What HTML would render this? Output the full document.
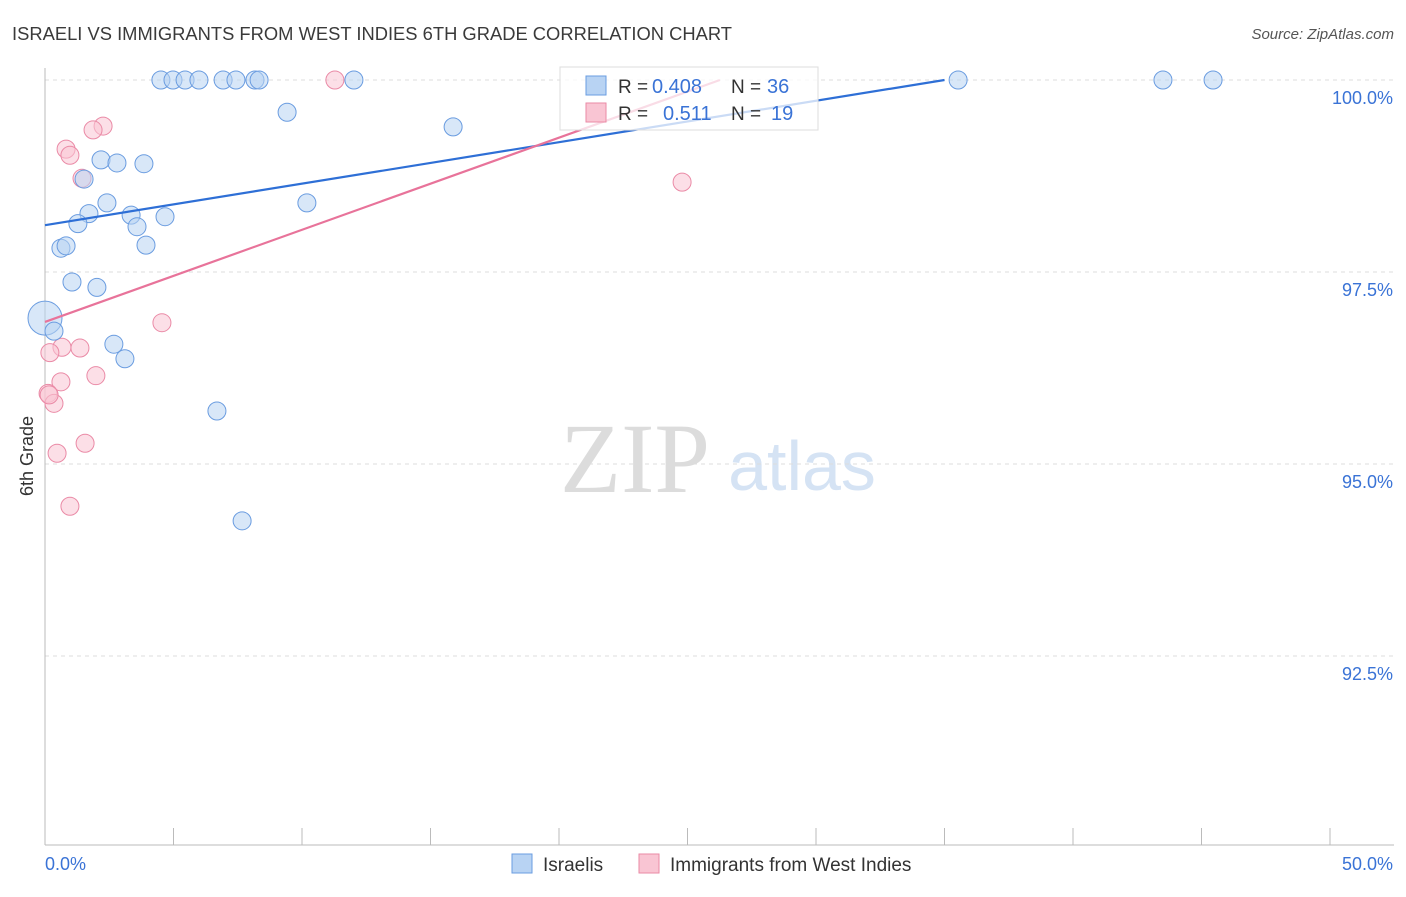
<!DOCTYPE html>
<html><head><meta charset="utf-8"><style>
body{margin:0;background:#fff;font-family:"Liberation Sans",sans-serif}
svg text{font-family:"Liberation Sans",sans-serif}
</style></head><body>
<svg id="c" width="1406" height="892" xmlns="http://www.w3.org/2000/svg">
<text x="12" y="40" font-size="18" fill="#3a3a3a" textLength="720" lengthAdjust="spacingAndGlyphs">ISRAELI VS IMMIGRANTS FROM WEST INDIES 6TH GRADE CORRELATION CHART</text>
<text x="1394" y="39" font-size="15" fill="#555" text-anchor="end" font-style="italic">Source: ZipAtlas.com</text>
<text x="33" y="456" font-size="18" fill="#333" transform="rotate(-90 33 456)" text-anchor="middle">6th Grade</text>
<text x="635" y="492" font-size="100" fill="#dcdcdc" style="font-family:'Liberation Serif',serif" text-anchor="middle">ZIP</text>
<text x="802" y="490" font-size="70" fill="#d5e3f4" text-anchor="middle">atlas</text>
<g id="grid"></g><g id="marks"></g>
<g>
<rect x="560" y="67" width="258" height="63" fill="#fff" fill-opacity="0.75" stroke="#ddd"/>
<rect x="586" y="76" width="20" height="19" fill="#b8d3f3" stroke="#6a9ce0"/>
<rect x="586" y="103" width="20" height="19" fill="#f9c5d3" stroke="#ea8aa6"/>
<text x="618" y="93" font-size="19" fill="#333">R =</text>
<text x="652" y="93" font-size="20" fill="#3a73d6">0.408</text>
<text x="731" y="93" font-size="19" fill="#333">N =</text>
<text x="767" y="93" font-size="20" fill="#3a73d6">36</text>
<text x="618" y="120" font-size="19" fill="#333">R =</text>
<text x="663" y="120" font-size="20" fill="#3a73d6">0.511</text>
<text x="731" y="120" font-size="19" fill="#333">N =</text>
<text x="771" y="120" font-size="20" fill="#3a73d6">19</text>
</g>
<g>
<rect x="512" y="854" width="20" height="19" fill="#b8d3f3" stroke="#6a9ce0"/>
<text x="543" y="871" font-size="19" fill="#333">Israelis</text>
<rect x="639" y="854" width="20" height="19" fill="#f9c5d3" stroke="#ea8aa6"/>
<text x="670" y="871" font-size="19" fill="#333">Immigrants from West Indies</text>
</g>
</svg>
<script>
const xTicks=[0,5,10,15,20,25,30,35,40,45,50];
const yTicks=[100,97.5,95,92.5];
const yTickLabels=["100.0%","97.5%","95.0%","92.5%"];
const blueX=[4.51,4.98,5.45,5.99,6.93,7.43,8.17,8.33,12.02,35.53,43.5,45.45,9.42,15.88,2.18,2.80,3.85,1.52,2.41,10.19,1.71,3.35,4.67,1.28,3.58,0.62,0.82,3.93,1.05,2.02,0.0,0.35,2.68,3.11,6.69,7.67];
const blueY=[100,100,100,100,100,100,100,100,100,100,100,100,99.58,99.39,98.96,98.92,98.91,98.71,98.40,98.40,98.26,98.24,98.22,98.13,98.09,97.81,97.84,97.85,97.37,97.30,96.90,96.73,96.56,96.37,95.69,94.26];
const pinkX=[11.28,2.26,1.87,0.82,0.97,1.44,24.79,4.55,0.66,1.36,0.19,1.98,0.62,0.12,0.35,1.56,0.47,0.97,0.16];
const pinkY=[100,99.40,99.35,99.10,99.02,98.72,98.67,96.84,96.52,96.51,96.45,96.15,96.07,95.92,95.79,95.27,95.14,94.45,95.90];
const blueTrend=[[0,98.11],[35,100]];
const pinkTrend=[[0,96.85],[26.26,100]];
const NS="http://www.w3.org/2000/svg";
const X=v=>45+v*25.7, Y=v=>80+(100-v)*76.8;
function mk(t,a,p){const e=document.createElementNS(NS,t);for(const k in a)e.setAttribute(k,a[k]);p.appendChild(e);return e;}
const g=document.getElementById('grid'), m=document.getElementById('marks');
yTicks.forEach((t,i)=>{
 const l=mk('line',{x1:45,x2:1394,y1:Y(t),y2:Y(t),stroke:'#ddd','stroke-dasharray':'4 4'},g);
 
 
 const tx=mk('text',{x:1393,y:Y(t)+24,'font-size':18,fill:'#3a73d6','text-anchor':'end'},g);tx.textContent=yTickLabels[i];
 
 
});
mk('line',{x1:45,x2:45,y1:68,y2:845,stroke:'#bbb'},g);
mk('line',{x1:45,x2:1394,y1:845,y2:845,stroke:'#bbb'},g);
xTicks.forEach(t=>{const l=mk('line',{x1:X(t),x2:X(t),y1:828,y2:845,stroke:'#bbb'},g);
 
 });
const a=mk('text',{x:45,y:870,'font-size':18,fill:'#3a73d6'},g);a.textContent=xTicks[0].toFixed(1)+'%';


const b=mk('text',{x:1393,y:870,'font-size':18,fill:'#3a73d6','text-anchor':'end'},g);b.textContent=xTicks[10].toFixed(1)+'%';


function pts(xs,ys,fill,stroke,name){xs.forEach((x,i)=>{const r=(x===0&&name==='israeli-point')?17:9;
 const c=mk('circle',{cx:X(x),cy:Y(ys[i]),r:r,fill:fill,'fill-opacity':0.55,stroke:stroke,'stroke-width':1},m);
 
 });}
pts(pinkX,pinkY,'#f9c5d3','#ea8aa6','west-indies-point');
pts(blueX,blueY,'#b8d3f3','#6a9ce0','israeli-point');
const bl=mk('line',{x1:X(blueTrend[0][0]),y1:Y(blueTrend[0][1]),x2:X(blueTrend[1][0]),y2:Y(blueTrend[1][1]),stroke:'#2e6fd6','stroke-width':2.2},m);


const pl=mk('line',{x1:X(pinkTrend[0][0]),y1:Y(pinkTrend[0][1]),x2:X(pinkTrend[1][0]),y2:Y(pinkTrend[1][1]),stroke:'#e8739a','stroke-width':2.2},m);


</script>
</body></html>
